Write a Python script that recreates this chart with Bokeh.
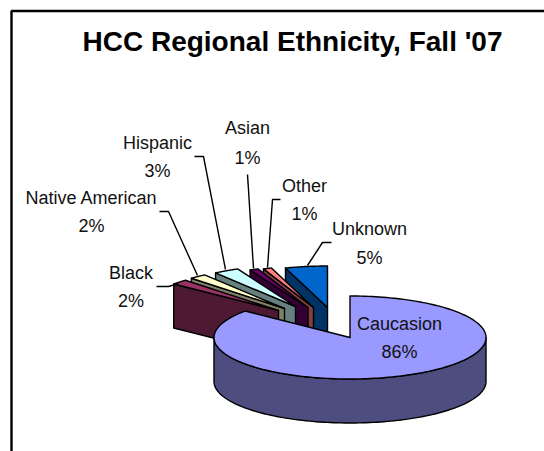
import numpy as np
from bokeh.core.properties import value
from bokeh.embed import file_html
from bokeh.models import Range1d
from bokeh.plotting import figure
from bokeh.resources import INLINE

# Chart content
title = "HCC Regional Ethnicity, Fall '07"
categories = ["Caucasion", "Black", "Native American", "Hispanic", "Asian", "Other", "Unknown"]
shares = [86, 2, 2, 3, 1, 1, 5]

# Colours of the wedge tops and their darker sides
top_colors = ["#9999FF", "#993366", "#FFFFCC", "#CCFFFF", "#660066", "#FF8080", "#0066CC"]
side_colors = ["#4D4D80", "#4D1933", "#808066", "#668080", "#330033", "#804040", "#003366"]

# Layout of the exploded pie: apex of each wedge, radii and extrusion depth
apex_x = [349.5, 278, 284, 295, 307.5, 313, 327]
apex_y = [337, 310, 308, 306, 307, 307, 307]
radius_x, radius_y, depth = 136, 41.5, 44

# Label anchors: name row, percent row
label_x = [399, 130.5, 91, 157, 247, 304, 369]
name_y = [323, 272, 197, 142, 127, 185, 228]
pct_y = [351, 300, 225, 170, 157, 213, 257]

# Leader lines from the labels to the wedges
leaders = {
    "Black": ([156, 168, 178], [286, 286, 283]),
    "Native American": ([159, 168, 197], [211, 211, 275]),
    "Hispanic": ([194, 203, 225], [156, 156, 269]),
    "Asian": ([247, 253], [174, 268]),
    "Other": ([280, 272, 267], [199, 199, 267]),
    "Unknown": ([331, 322, 307], [242, 242, 265]),
}

FONT = value("Liberation Sans")
p = figure(
    width=544, height=451, output_backend="svg", toolbar_location=None,
    x_range=Range1d(0, 544), y_range=Range1d(451, 0), min_border=0,
    x_axis_type=None, y_axis_type=None, outline_line_color=None,
)
p.grid.visible = False
p.background_fill_color = "white"
p.border_fill_color = "white"

# Frame open to the right and below
p.line([11, 11, 544], [451, 10.5, 10.5], line_color="black", line_width=2.4)


def rim(cx, cy, start_deg, end_deg, n=120):
    """Points along the top rim, angles clockwise from twelve o'clock."""
    t = np.radians(np.linspace(start_deg, end_deg, n))
    return cx + radius_x * np.sin(t), cy - radius_y * np.cos(t)


edges = np.concatenate([[0], np.cumsum(shares)]) * 3.6
outline = dict(line_color="black", line_width=1.4, line_join="round")

# Back wedges are painted from right to left so nearer ones overlap them
for i in range(len(shares) - 1, 0, -1):
    cx, cy = apex_x[i], apex_y[i]
    xs, ys = rim(cx, cy, edges[i], edges[i + 1], 24)
    # radial face of the wedge, seen from the front
    p.patch([cx, xs[0], xs[0], cx], [cy, ys[0], ys[0] + depth, cy + depth],
            fill_color=side_colors[i], **outline)
    p.patch(np.r_[cx, xs], np.r_[cy, ys], fill_color=top_colors[i], **outline)

# Large front wedge: curved side first, then the top
cx, cy = apex_x[0], apex_y[0]
xs, ys = rim(cx, cy, 90, 270)
p.patch(np.r_[xs, xs[::-1]], np.r_[ys, ys[::-1] + depth], fill_color=side_colors[0], **outline)
xs, ys = rim(cx, cy, edges[0], edges[1], 200)
p.patch(np.r_[cx, xs], np.r_[cy, ys], fill_color=top_colors[0], **outline)

for xs, ys in leaders.values():
    p.line(xs, ys, line_color="black", line_width=1.4)

p.text(x=label_x, y=name_y, text=categories, text_font=FONT, text_font_size="18px",
       text_color="#111111", text_align="center", text_baseline="middle")
p.text(x=label_x, y=pct_y, text=[f"{s}%" for s in shares], text_font=FONT, text_font_size="18px",
       text_color="#111111", text_align="center", text_baseline="middle")
p.text(x=[292], y=[41], text=[title], text_font=FONT, text_font_size="28px", text_font_style="bold",
       text_color="black", text_align="center", text_baseline="middle")

open("out.html", "w").write(file_html(p, INLINE))
